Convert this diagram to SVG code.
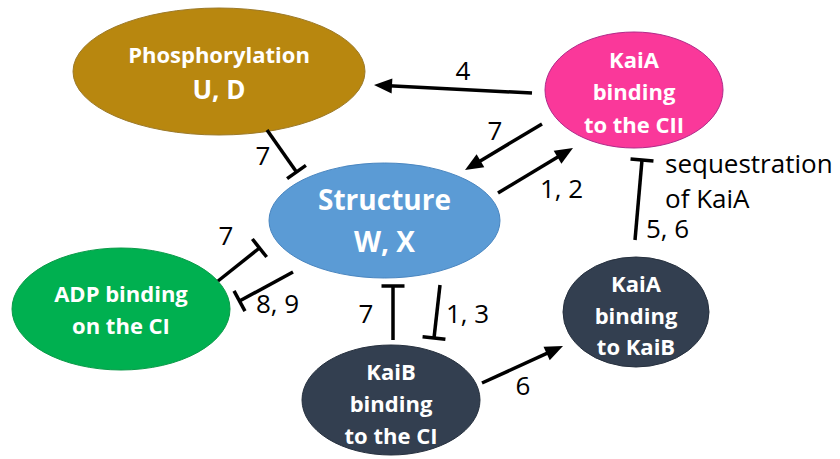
<svg xmlns="http://www.w3.org/2000/svg" width="840" height="459" viewBox="0 0 840 459">
<style>
.node text{font-family:"Open Sans","Liberation Sans",sans-serif;font-weight:bold;fill:#fff;text-anchor:middle}
.lbl{font-family:"Open Sans","Liberation Sans",sans-serif;font-size:26px;fill:#000}
.c{text-anchor:middle}
.act{stroke:#000;stroke-width:3.5;fill:none;marker-end:url(#arrow)}
.inh{stroke:#000;stroke-width:3.5;fill:none;marker-end:url(#tbar)}
</style>
<defs>
<marker id="arrow" markerUnits="userSpaceOnUse" markerWidth="20" markerHeight="18" viewBox="0 -9 18 18" refX="8" refY="0" orient="auto">
<path d="M0,-7.5 L18,0 L0,7.5 Z" fill="#000"/>
</marker>
<marker id="tbar" markerUnits="userSpaceOnUse" markerWidth="6" markerHeight="26" viewBox="-3 -13 6 26" refX="0" refY="0" orient="auto">
<path d="M0,-11.5 L0,11.5" stroke="#000" stroke-width="3.5"/>
</marker>
</defs>
<rect width="840" height="459" fill="#fff"/>
<g id="phosphorylation" class="node">
<ellipse cx="219" cy="71.5" rx="146" ry="63.5" fill="#B8870F" stroke="#9c7a2a" stroke-width="1"/>
<text x="219" y="63" font-size="22">Phosphorylation</text>
<text x="219" y="99" font-size="26">U, D</text>
</g>
<g id="kaia-cii" class="node">
<ellipse cx="634" cy="90" rx="89" ry="58" fill="#FA389A" stroke="#b02a8a" stroke-width="1"/>
<text x="634" y="68" font-size="22">KaiA</text>
<text x="634" y="100" font-size="22">binding</text>
<text x="634" y="133" font-size="22">to the CII</text>
</g>
<g id="structure" class="node">
<ellipse cx="384.5" cy="220.5" rx="115.5" ry="57.5" fill="#5B9BD5" stroke="#4a86c0" stroke-width="1"/>
<text x="384.5" y="210" font-size="28">Structure</text>
<text x="384.5" y="252" font-size="28">W, X</text>
</g>
<g id="adp-ci" class="node">
<ellipse cx="121" cy="309" rx="109" ry="61" fill="#00B050" stroke="#0a9a48" stroke-width="1"/>
<text x="121" y="302" font-size="22">ADP binding</text>
<text x="121" y="334" font-size="22">on the CI</text>
</g>
<g id="kaib-ci" class="node">
<ellipse cx="391" cy="400" rx="89" ry="55" fill="#333F50" stroke="#26303e" stroke-width="1"/>
<text x="391" y="380" font-size="22">KaiB</text>
<text x="391" y="412" font-size="22">binding</text>
<text x="391" y="444" font-size="22">to the CI</text>
</g>
<g id="kaia-kaib" class="node">
<ellipse cx="636" cy="312" rx="73" ry="55" fill="#333F50" stroke="#26303e" stroke-width="1"/>
<text x="636" y="292" font-size="22">KaiA</text>
<text x="636" y="324" font-size="22">binding</text>
<text x="636" y="355" font-size="22">to KaiB</text>
</g>
<g id="connectors">
<path class="act" d="M532,93 L384,85.5"/>
<path class="act" d="M542,124 L473.6,164.9"/>
<path class="act" d="M498,193 L564.4,153.1"/>
<path class="act" d="M482,383 L553.9,350.2"/>
<path class="inh" d="M267,130 L296.5,172"/>
<path class="inh" d="M218,281 L259.5,248"/>
<path class="inh" d="M293,272 L239.5,301"/>
<path class="inh" d="M393,340 L393,286"/>
<path class="inh" d="M440,285 L434,338"/>
<path class="inh" d="M635,240 L642,160"/>
<text class="lbl c" x="463" y="80">4</text>
<text class="lbl c" x="495" y="140">7</text>
<text class="lbl" x="540" y="198">1, 2</text>
<text class="lbl c" x="263" y="165">7</text>
<text class="lbl c" x="226" y="245">7</text>
<text class="lbl" x="256" y="313">8, 9</text>
<text class="lbl c" x="366" y="323">7</text>
<text class="lbl" x="446" y="323">1, 3</text>
<text class="lbl c" x="523" y="395">6</text>
<text class="lbl" x="665" y="173">sequestration</text>
<text class="lbl" x="665" y="208">of KaiA</text>
<text class="lbl" x="646" y="238">5, 6</text>
</g>
</svg>
